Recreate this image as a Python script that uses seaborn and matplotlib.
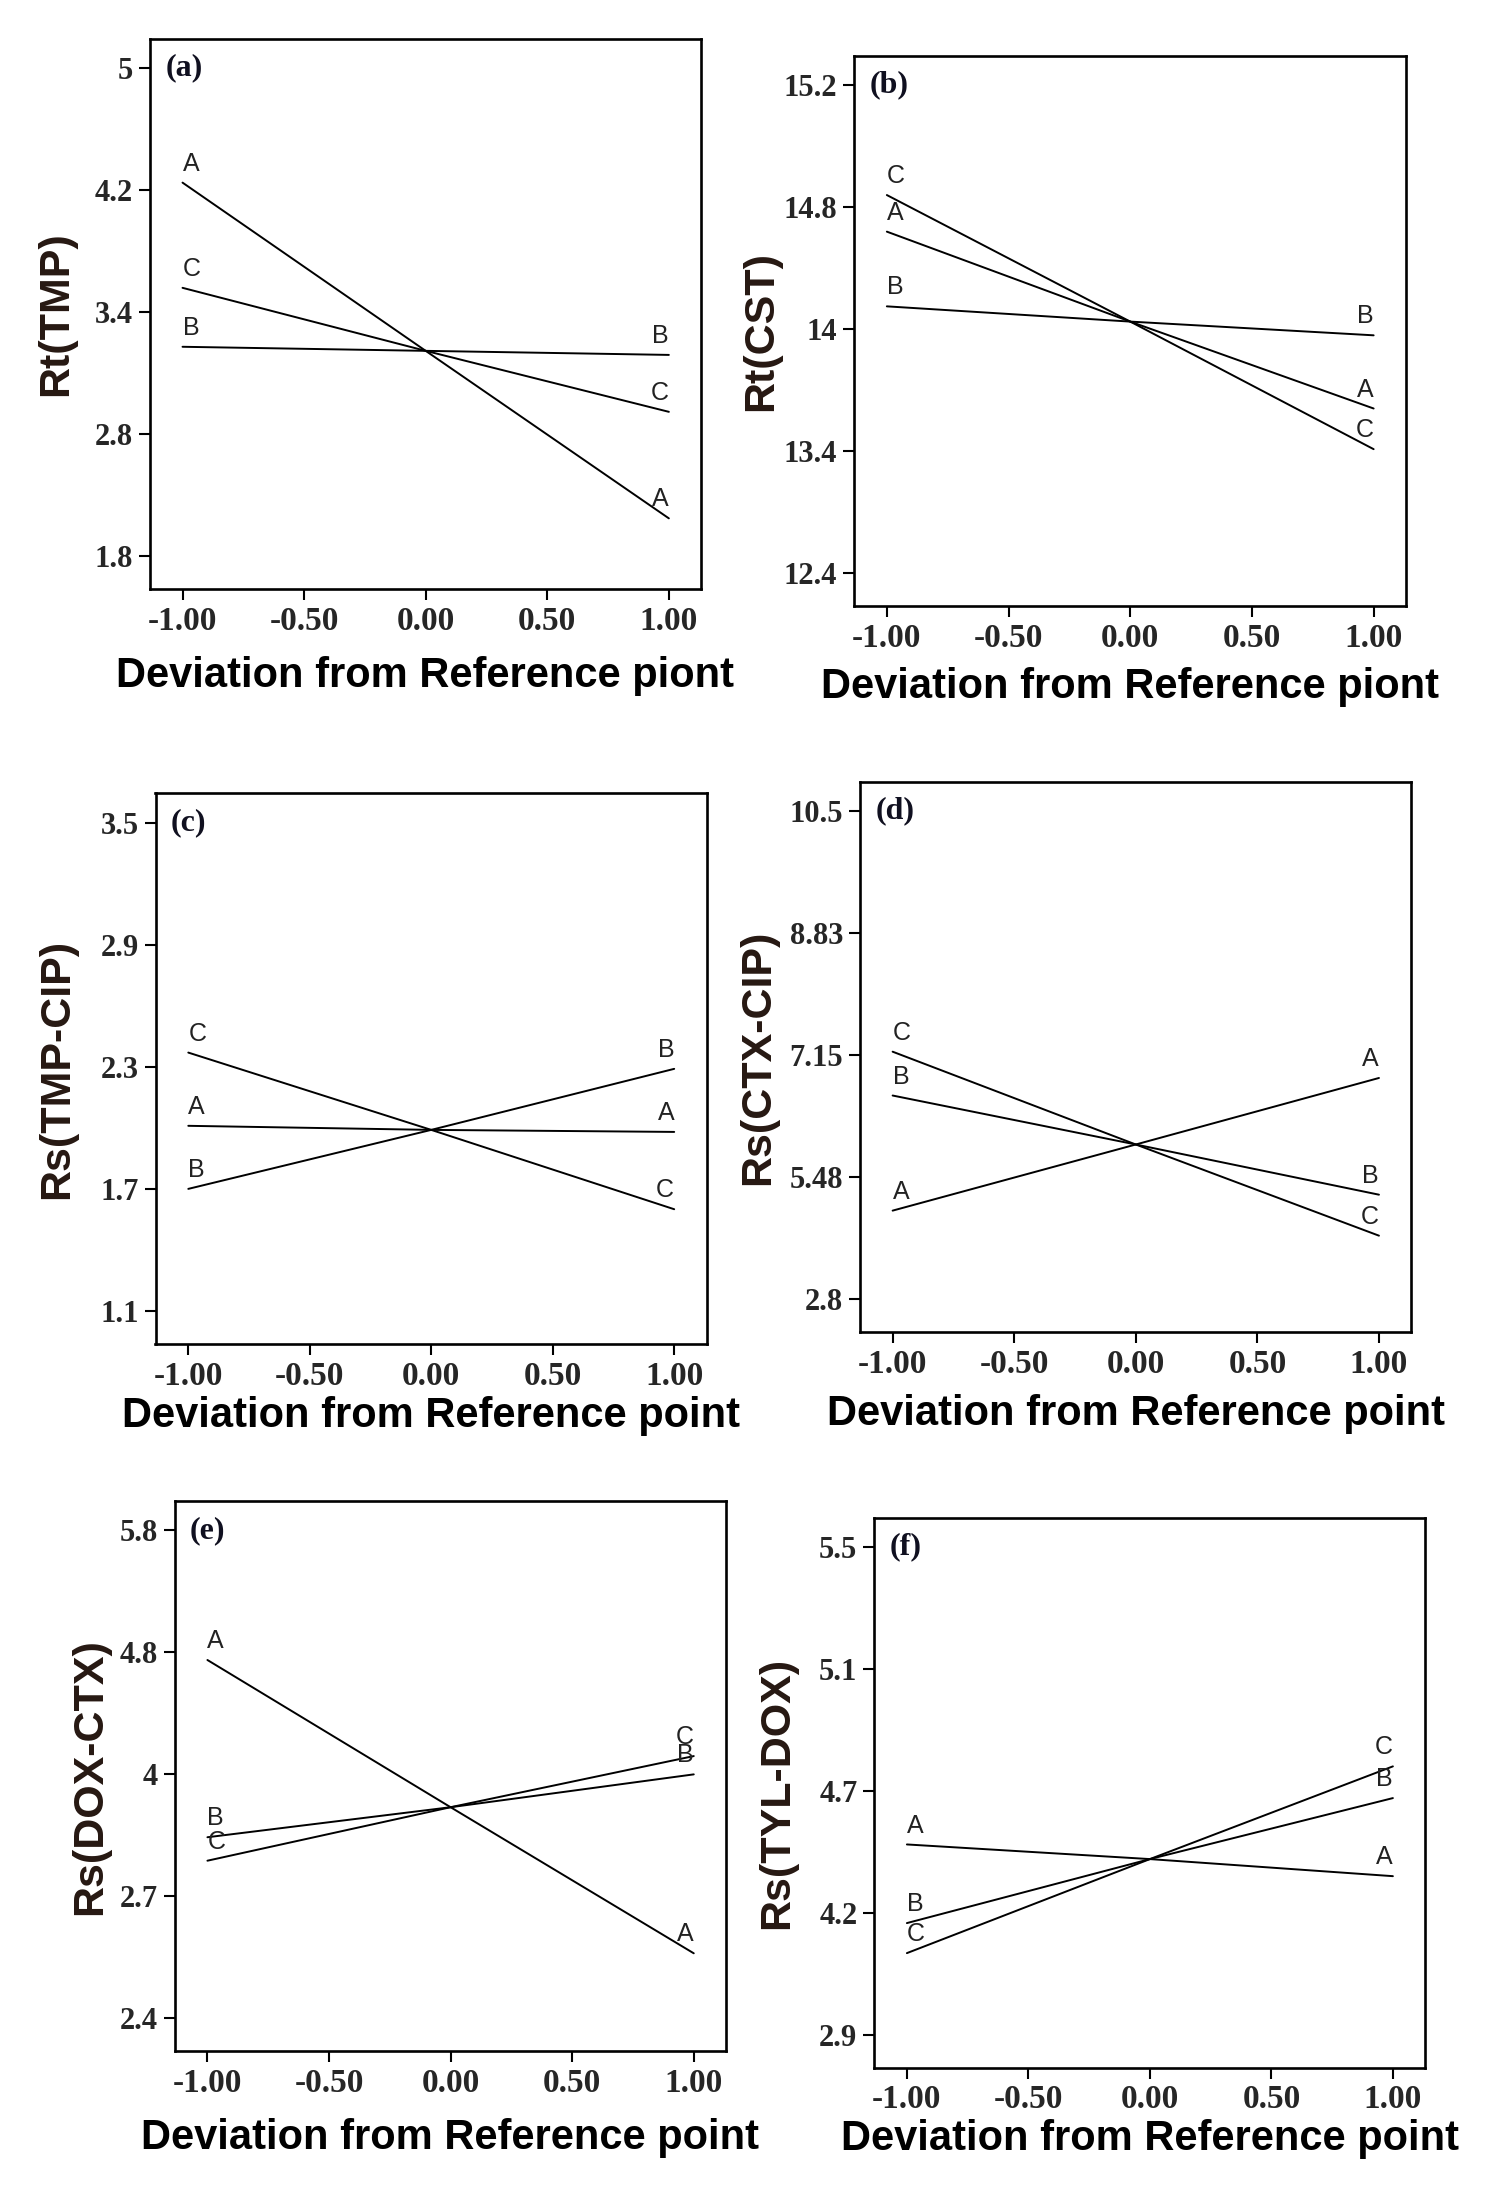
import numpy as np
import pandas as pd
import matplotlib
matplotlib.use("Agg")
import matplotlib.pyplot as plt
import seaborn as sns

# deviation from the reference point (x) and tick labels
dev = [-1.0, 0.0, 1.0]
x_ticks = [-1.0, -0.5, 0.0, 0.5, 1.0]
x_ticklabels = ["-1.00", "-0.50", "0.00", "0.50", "1.00"]
factors = ["A", "B", "C"]

# (a) Rt(TMP)
a_A = [4.25, 3.21, 2.11]
a_B = [3.23, 3.21, 3.19]
a_C = [3.56, 3.21, 2.91]
a_ticks = [1.8, 2.8, 3.4, 4.2, 5.0]
a_ticklabels = ["1.8", "2.8", "3.4", "4.2", "5"]

# (b) Rt(CST)
b_A = [14.64, 14.05, 13.61]
b_B = [14.15, 14.05, 13.97]
b_C = [14.84, 14.05, 13.41]
b_ticks = [12.4, 13.4, 14.0, 14.8, 15.2]
b_ticklabels = ["12.4", "13.4", "14", "14.8", "15.2"]

# (c) Rs(TMP-CIP)
c_A = [2.01, 1.99, 1.98]
c_B = [1.70, 1.99, 2.29]
c_C = [2.37, 1.99, 1.60]
c_ticks = [1.1, 1.7, 2.3, 2.9, 3.5]
c_ticklabels = ["1.1", "1.7", "2.3", "2.9", "3.5"]

# (d) Rs(CTX-CIP)
d_A = [4.75, 5.93, 6.84]
d_B = [6.60, 5.93, 5.10]
d_C = [7.20, 5.93, 4.20]
d_ticks = [2.8, 5.48, 7.15, 8.83, 10.5]
d_ticklabels = ["2.8", "5.48", "7.15", "8.83", "10.5"]

# (e) Rs(DOX-CTX)
e_A = [4.75, 3.65, 2.56]
e_B = [3.33, 3.65, 4.00]
e_C = [3.08, 3.65, 4.12]
e_ticks = [2.4, 2.7, 4.0, 4.8, 5.8]
e_ticklabels = ["2.4", "2.7", "4", "4.8", "5.8"]

# (f) Rs(TYL-DOX)
f_A = [4.48, 4.42, 4.35]
f_B = [4.09, 4.42, 4.67]
f_C = [3.77, 4.42, 4.78]
f_ticks = [2.9, 4.2, 4.7, 5.1, 5.5]
f_ticklabels = ["2.9", "4.2", "4.7", "5.1", "5.5"]

panels = [
    ("(a)", "Rt(TMP)", "Deviation from Reference piont", [a_A, a_B, a_C], a_ticks, a_ticklabels),
    ("(b)", "Rt(CST)", "Deviation from Reference piont", [b_A, b_B, b_C], b_ticks, b_ticklabels),
    ("(c)", "Rs(TMP-CIP)", "Deviation from Reference point", [c_A, c_B, c_C], c_ticks, c_ticklabels),
    ("(d)", "Rs(CTX-CIP)", "Deviation from Reference point", [d_A, d_B, d_C], d_ticks, d_ticklabels),
    ("(e)", "Rs(DOX-CTX)", "Deviation from Reference point", [e_A, e_B, e_C], e_ticks, e_ticklabels),
    ("(f)", "Rs(TYL-DOX)", "Deviation from Reference point", [f_A, f_B, f_C], f_ticks, f_ticklabels),
]

# layout: axes boxes in pixels (left, top, right, bottom), label offsets
W, H = 1495, 2193
boxes = [
    (149.7, 39.0, 701.2, 589.1),
    (854.0, 56.0, 1406.0, 606.1),
    (155.5, 793.4, 706.5, 1343.9),
    (859.8, 781.9, 1411.3, 1332.4),
    (174.6, 1501.1, 726.1, 2051.3),
    (874.1, 1517.5, 1425.2, 2067.7),
]
ylabel_x = [-0.133, -0.132, -0.143, -0.148, -0.117, -0.139]
xlabel_y = [-0.122, -0.110, -0.094, -0.112, -0.122, -0.094]


def tick_scale(ticks):
    # piecewise-linear scale: the printed ticks are evenly spaced
    t = np.asarray(ticks, float)
    k = np.arange(len(t), dtype=float)

    def fwd(v):
        v = np.asarray(v, float)
        out = np.interp(v, t, k)
        out = np.where(v < t[0], (v - t[0]) / (t[1] - t[0]), out)
        out = np.where(v > t[-1], k[-1] + (v - t[-1]) / (t[-1] - t[-2]), out)
        return out

    def inv(u):
        u = np.asarray(u, float)
        out = np.interp(u, k, t)
        out = np.where(u < 0, t[0] + u * (t[1] - t[0]), out)
        out = np.where(u > k[-1], t[-1] + (u - k[-1]) * (t[-1] - t[-2]), out)
        return out

    return fwd, inv


sns.set_style("ticks")
plt.rcParams["font.family"] = ["Liberation Sans", "DejaVu Sans"]
plt.rcParams["axes.unicode_minus"] = False

fig = plt.figure(figsize=(W / 100, H / 100), dpi=100)

for i, (tag, ylab, xlab, series, yt, ytl) in enumerate(panels):
    l, t, r, b = boxes[i]
    ax = fig.add_axes([l / W, 1 - b / H, (r - l) / W, (b - t) / H])

    df = pd.DataFrame({
        "dev": dev * 3,
        "resp": series[0] + series[1] + series[2],
        "factor": [f for f in factors for _ in dev],
    })
    sns.lineplot(data=df, x="dev", y="resp", hue="factor",
                 palette={f: "black" for f in factors}, estimator=None,
                 sort=False, legend=False, linewidth=1.4, ax=ax)

    fwd, inv = tick_scale(yt)
    ax.set_yscale("function", functions=(fwd, inv))
    ax.set_ylim(float(inv(-0.27)), float(inv(4.24)))
    ax.set_yticks(yt)
    ax.set_yticklabels(ytl)
    ax.yaxis.set_minor_locator(matplotlib.ticker.NullLocator())
    ax.set_xlim(-1.135, 1.133)
    ax.set_xticks(x_ticks)
    ax.set_xticklabels(x_ticklabels)

    for sp in ax.spines.values():
        sp.set_visible(True)
        sp.set_linewidth(1.9)
        sp.set_color("black")
    ax.tick_params(axis="both", direction="out", length=8, width=1.5,
                   color="black", pad=4)
    for lab in ax.get_yticklabels():
        lab.set_fontfamily("Liberation Serif")
        lab.set_fontweight("bold")
        lab.set_fontsize(22)
    for lab in ax.get_xticklabels():
        lab.set_fontfamily("Liberation Serif")
        lab.set_fontweight("bold")
        lab.set_fontsize(24)

    ax.set_ylabel(ylab, fontsize=31, fontweight="bold", color="#261812")
    ax.yaxis.set_label_coords(ylabel_x[i], 0.5)
    ax.set_xlabel(xlab, fontsize=30, fontweight="bold", color="black")
    ax.xaxis.set_label_coords(0.5, xlabel_y[i])

    ax.text(0.028, 0.947, tag, transform=ax.transAxes, ha="left", va="center",
            fontsize=23, fontweight="bold", family="Liberation Serif",
            color="#101020")

    for name, vals in zip(factors, series):
        ax.annotate(name, xy=(dev[0], vals[0]), xytext=(0, 5),
                    textcoords="offset points", ha="left", va="bottom",
                    fontsize=18, color="#222222")
        ax.annotate(name, xy=(dev[-1], vals[-1]), xytext=(0, 5),
                    textcoords="offset points", ha="right", va="bottom",
                    fontsize=18, color="#222222")

fig.savefig("out.png", dpi=100)
